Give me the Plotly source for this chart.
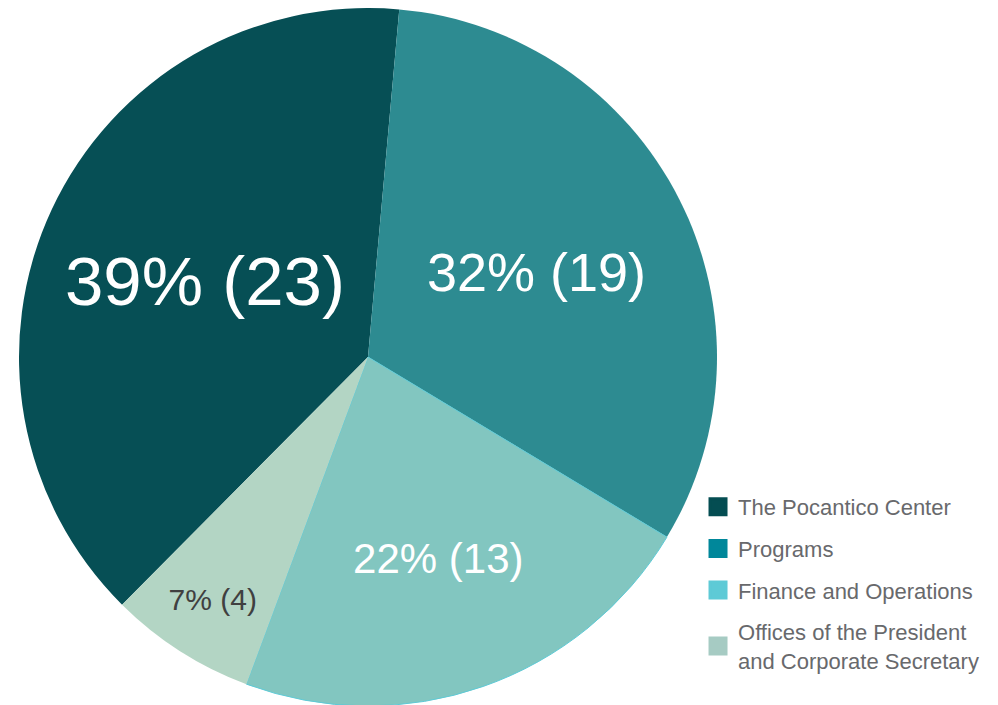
import plotly.graph_objects as go

departments = [
    "The Pocantico Center",
    "Programs",
    "Finance and Operations",
    "Offices of the President<br>and Corporate Secretary",
]
staff = [23, 19, 13, 4]
slice_colors = ["#064f55", "#2d8b91", "#82c6c0", "#b3d5c4"]
legend_colors = ["#044d52", "#00879a", "#5ecad6", "#a6cbc3"]
label_sizes = [69, 54, 42, 30]
label_colors = ["white", "white", "white", "#404040"]

fig = go.Figure()
fig.add_trace(go.Pie(
    labels=departments, values=staff, sort=False, direction="clockwise",
    rotation=224.8, showlegend=False,
    marker={"colors": slice_colors,
            "line": {"width": [0, 0, 1, 0], "color": ["#064f55", "#2d8b91", "#5ecad6", "#b3d5c4"]}},
    texttemplate="%{percent:.0%} (%{value})", textposition="inside",
    insidetextorientation="horizontal",
    textfont={"family": "Liberation Sans, Arial, sans-serif", "size": label_sizes, "color": label_colors},
    domain={"x": [10 / 998, 710 / 998], "y": [7 / 705, 1]},
    hoverinfo="label+value+percent",
))
# legend swatches differ from the slice colours, so they come from empty marker traces
for name, color in zip(departments, legend_colors):
    fig.add_trace(go.Scatter(
        x=[None], y=[None], mode="markers", name=name, legendgroup=name,
        marker={"symbol": "square", "size": 16, "color": color, "line": {"width": 3, "color": color}},
    ))

fig.update_layout(
    width=998, height=705, margin={"l": 0, "r": 0, "t": 0, "b": 0},
    paper_bgcolor="white", plot_bgcolor="white",
    xaxis={"visible": False}, yaxis={"visible": False},
    legend={
        "x": 0.6914, "y": 0.322, "xanchor": "left", "yanchor": "top",
        "font": {"family": "Liberation Sans, Arial, sans-serif", "size": 22, "color": "#68696c"},
        "tracegroupgap": 10, "itemwidth": 30,
    },
)
fig.write_html("out.html")
